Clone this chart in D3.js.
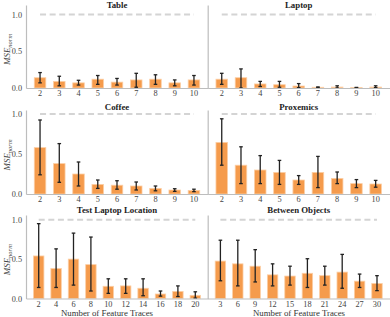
<!DOCTYPE html>
<html>
<head>
<meta charset="utf-8">
<script src="https://cdnjs.cloudflare.com/ajax/libs/d3/7.8.5/d3.min.js"></script>
<style>
body{margin:0;background:#fff}
svg{display:block;font-family:"Liberation Serif",serif}
</style>
</head>
<body>
<svg></svg>
<script>
// feature trace counts (x categories)
var tracesTen = [2,3,4,5,6,7,8,9,10]
var tracesLaptopLoc = [2,4,6,8,10,12,14,16,18,20]
var tracesBetween = [3,6,9,12,15,18,21,24,27,30]

// mean MSE and error bar ends
var tableMean = [0.14,0.09,0.07,0.12,0.08,0.11,0.12,0.07,0.11]
var tableLo   = [0.07,0.03,0.04,0.05,0.04,0.01,0.05,0.03,0.04]
var tableHi   = [0.21,0.16,0.105,0.17,0.13,0.20,0.18,0.11,0.17]

var laptopMean = [0.12,0.14,0.055,0.045,0.027,0.01,0.013,0.005,0.013]
var laptopLo   = [0.05,0.0,0.02,0.01,0.005,0.005,0.0,0.003,0.005]
var laptopHi   = [0.20,0.26,0.09,0.09,0.06,0.015,0.03,0.008,0.03]

var coffeeMean = [0.58,0.38,0.25,0.12,0.11,0.10,0.07,0.05,0.045]
var coffeeLo   = [0.24,0.146,0.10,0.07,0.06,0.05,0.04,0.033,0.03]
var coffeeHi   = [0.925,0.63,0.40,0.175,0.166,0.15,0.10,0.066,0.06]

var proxMean = [0.645,0.36,0.30,0.27,0.175,0.27,0.195,0.13,0.125]
var proxLo   = [0.36,0.13,0.13,0.12,0.12,0.08,0.13,0.08,0.085]
var proxHi   = [0.94,0.59,0.48,0.42,0.23,0.47,0.275,0.18,0.17]

var laptopLocMean = [0.54,0.38,0.50,0.43,0.155,0.16,0.13,0.057,0.09,0.04]
var laptopLocLo   = [0.14,0.14,0.17,0.095,0.065,0.065,0.035,0.03,0.025,0.005]
var laptopLocHi   = [0.95,0.63,0.83,0.78,0.25,0.25,0.25,0.095,0.16,0.085]

var betweenMean = [0.475,0.44,0.41,0.30,0.285,0.32,0.29,0.335,0.22,0.19]
var betweenLo   = [0.225,0.16,0.21,0.16,0.17,0.14,0.17,0.13,0.14,0.10]
var betweenHi   = [0.74,0.74,0.62,0.44,0.41,0.505,0.41,0.56,0.31,0.29]

var titles = ["Table","Laptop","Coffee","Proxemics","Test Laptop Location","Between Objects"]
var yTicks = [0,0.5,1.0]
var baseline = 1.0

var screen = {width:390,height:317}

// layout of the 3x2 grid
var colLeft = [26,207.7]
var colWidth = 182
var rowTop = [5,110,215]
var rowBottom = [88,194,298.5]
var rowMax = [1.13,1.05,1.06]
var titleY = [7.5,109.5,213]

var barColor = "#f59b4c"
var edgeColor = "#fccfa6"
var spineColor = "#bdbdbd"

var panels = [
    {x:tracesTen, mean:tableMean, lo:tableLo, hi:tableHi},
    {x:tracesTen, mean:laptopMean, lo:laptopLo, hi:laptopHi},
    {x:tracesTen, mean:coffeeMean, lo:coffeeLo, hi:coffeeHi},
    {x:tracesTen, mean:proxMean, lo:proxLo, hi:proxHi},
    {x:tracesLaptopLoc, mean:laptopLocMean, lo:laptopLocLo, hi:laptopLocHi},
    {x:tracesBetween, mean:betweenMean, lo:betweenLo, hi:betweenHi}
]

var svg = d3.select("svg")
    .attr("width",screen.width)
    .attr("height",screen.height)

var drawPanel = function(p,i)
    {
        var row = Math.floor(i/2)
        var col = i%2
        var x0 = colLeft[col]

        var xScale = d3.scaleBand()
                        .domain(p.x)
                        .range([x0,x0+colWidth])
                        .paddingInner(0.4)
                        .paddingOuter(0.43)

        var yScale = d3.scaleLinear()
                        .domain([0,rowMax[row]])
                        .range([rowBottom[row],rowTop[row]])

        var g = svg.append("g").attr("class","panel")

        // dashed reference line at 1.0
        g.append("line")
            .attr("x1",xScale(p.x[0])+xScale.bandwidth()/2)
            .attr("x2",xScale(p.x[p.x.length-1])+xScale.bandwidth()/2)
            .attr("y1",yScale(baseline))
            .attr("y2",yScale(baseline))
            .attr("stroke","#d4d4d4")
            .attr("stroke-width",2)
            .attr("stroke-dasharray","6,3.6")

        var idx = d3.range(p.x.length)

        g.selectAll("rect")
            .data(idx)
            .enter()
            .append("rect")
            .attr("x",function(d){return xScale(p.x[d])})
            .attr("width",xScale.bandwidth())
            .attr("y",function(d){return yScale(p.mean[d])})
            .attr("height",function(d){return yScale(0)-yScale(p.mean[d])})
            .attr("fill",barColor)
            .attr("stroke",edgeColor)
            .attr("stroke-width",0.8)

        var cx = function(d){return xScale(p.x[d])+xScale.bandwidth()/2}

        var err = g.selectAll("g.err")
            .data(idx)
            .enter()
            .append("g")
            .attr("class","err")
            .attr("stroke","#222")
            .attr("stroke-width",1.3)

        err.append("line")
            .attr("x1",cx).attr("x2",cx)
            .attr("y1",function(d){return yScale(p.lo[d])})
            .attr("y2",function(d){return yScale(p.hi[d])})
        err.append("line")
            .attr("x1",function(d){return cx(d)-1.8}).attr("x2",function(d){return cx(d)+1.8})
            .attr("y1",function(d){return yScale(p.lo[d])})
            .attr("y2",function(d){return yScale(p.lo[d])})
        err.append("line")
            .attr("x1",function(d){return cx(d)-1.8}).attr("x2",function(d){return cx(d)+1.8})
            .attr("y1",function(d){return yScale(p.hi[d])})
            .attr("y2",function(d){return yScale(p.hi[d])})

        // axes
        var xAxis = d3.axisBottom(xScale).tickSize(0).tickPadding(2.5)
        var gx = g.append("g")
            .attr("transform","translate(0,"+rowBottom[row]+")")
            .call(xAxis)
        gx.select(".domain").attr("stroke",spineColor).attr("stroke-width",1.2)
        gx.selectAll("text").attr("fill","#444").style("font-size","8.3px").style("font-family","Liberation Serif")

        var yAxis = d3.axisLeft(yScale).tickValues(yTicks).tickSize(0).tickPadding(4).tickFormat(d3.format(".1f"))
        var gy = g.append("g")
            .attr("transform","translate("+x0+",0)")
            .call(yAxis)
        gy.select(".domain").attr("stroke",spineColor).attr("stroke-width",1.2)
        if (col==0)
            gy.selectAll("text").attr("fill","#444").style("font-size","8.2px").style("font-family","Liberation Serif")
        else
            gy.selectAll(".tick").remove()

        g.append("text")
            .attr("x",x0+colWidth/2)
            .attr("y",titleY[row])
            .attr("text-anchor","middle")
            .attr("fill","#222")
            .style("font-size","8.8px")
            .style("font-weight","bold")
            .text(titles[i])

        if (col==0)
        {
            var cy = (rowTop[row]+rowBottom[row])/2+3
            var lab = g.append("text")
                .attr("transform","translate(10,"+cy+") rotate(-90)")
                .attr("text-anchor","middle")
                .attr("fill","#444")
                .style("font-style","italic")
                .style("font-size","9px")
            lab.append("tspan").text("MSE")
            lab.append("tspan").attr("dy",2).style("font-size","6.5px").text("norm")
        }

        if (row==2)
        {
            g.append("text")
                .attr("x",col==0?107:299)
                .attr("y",316)
                .attr("text-anchor","middle")
                .attr("fill","#333")
                .style("font-size","8.8px")
                .text("Number of Feature Traces")
        }
    }

panels.forEach(drawPanel)
</script>
</body>
</html>
